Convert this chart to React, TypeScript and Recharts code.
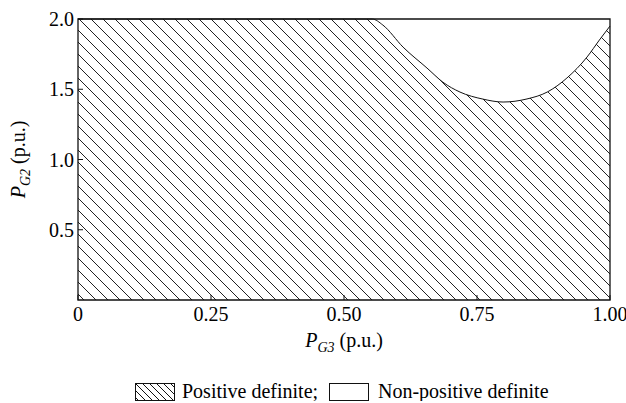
import React from 'react';
import { ComposedChart, Area, XAxis, YAxis, ReferenceArea, Legend } from 'recharts';

// Stability boundary: above the curve the matrix is no longer positive definite
const boundaryX = [0, 0.553, 0.573, 0.611, 0.656, 0.686, 0.718, 0.761, 0.799, 0.844, 0.882, 0.919, 0.957, 0.98, 1.0];
const boundaryY = [2.0, 2.0, 1.957, 1.8, 1.651, 1.55, 1.48, 1.43, 1.409, 1.431, 1.48, 1.58, 1.73, 1.85, 1.95];

const xTicks = [0, 0.25, 0.5, 0.75, 1.0];
const xTickLabels = ['0', '0.25', '0.50', '0.75', '1.00'];
const yTicks = [0.5, 1.0, 1.5, 2.0];
const yTickLabels = ['0.5', '1.0', '1.5', '2.0'];
const legendLabels = ['Positive definite;', 'Non-positive definite'];

const data = boundaryX.map((x, i) => ({ x, y: boundaryY[i] }));

const W = 626;
const H = 403;
const FONT = '"Liberation Serif", "Times New Roman", Times, serif';
const INK = '#111';
const X_TICK_MARGIN = 7;
const Y_TICK_MARGIN = 4;
const TICK_LEN = 5;
const LEGEND_H = 41;
const HATCH = 12;

const XTick = (props: any) => {
  const { x, y, payload } = props;
  const axisY = y - X_TICK_MARGIN;
  const label = xTickLabels[xTicks.indexOf(payload.value)];
  return (
    <g>
      <line x1={x} x2={x} y1={axisY} y2={axisY - TICK_LEN} stroke={INK} strokeWidth={1} />
      <text x={x} y={y} dy="0.71em" textAnchor="middle" fontFamily={FONT} fontSize={20} fill="#000">
        {label}
      </text>
    </g>
  );
};

const YTick = (props: any) => {
  const { x, y, payload } = props;
  const axisX = x + Y_TICK_MARGIN;
  const label = yTickLabels[yTicks.indexOf(payload.value)];
  return (
    <g>
      <line x1={axisX} x2={axisX + TICK_LEN} y1={y} y2={y} stroke={INK} strokeWidth={1} />
      <text x={x} y={y} dy="0.35em" textAnchor="end" fontFamily={FONT} fontSize={20} fill="#000">
        {label}
      </text>
    </g>
  );
};

const XLabel = (props: any) => {
  const vb = props.viewBox;
  return (
    <text x={vb.x + vb.width / 2} y={vb.y + 47} textAnchor="middle" fontFamily={FONT} fontSize={20} fill="#000">
      <tspan fontStyle="italic">P</tspan>
      <tspan fontStyle="italic" fontSize={14} dy={5}>G3</tspan>
      <tspan dy={-5}> (p.u.)</tspan>
    </text>
  );
};

const YLabel = (props: any) => {
  const vb = props.viewBox;
  const cy = vb.y + vb.height / 2;
  return (
    <text
      transform={`translate(25, ${cy}) rotate(-90)`}
      x={0}
      y={0}
      textAnchor="middle"
      fontFamily={FONT}
      fontSize={20}
      fill="#000"
    >
      <tspan fontStyle="italic">P</tspan>
      <tspan fontStyle="italic" fontSize={14} dy={5}>G2</tspan>
      <tspan dy={-5}> (p.u.)</tspan>
    </text>
  );
};

const LegendContent = () => (
  <svg width={W} height={LEGEND_H} style={{ display: 'block' }}>
    <defs>
      <pattern id="hatchSmall" patternUnits="userSpaceOnUse" width={7} height={7}>
        <path d="M-1,-1 L8,8 M-1,6 L1,8 M6,-1 L8,1" stroke={INK} strokeWidth={1} />
      </pattern>
    </defs>
    <rect x={135.5} y={23.5} width={39} height={17} fill="url(#hatchSmall)" stroke={INK} strokeWidth={1} />
    <text x={182} y={38} fontFamily={FONT} fontSize={20} fill="#000">
      {legendLabels[0]}
    </text>
    <rect x={329.5} y={23.5} width={39} height={17} fill="#fff" stroke={INK} strokeWidth={1} />
    <text x={378} y={38} fontFamily={FONT} fontSize={20} fill="#000">
      {legendLabels[1]}
    </text>
  </svg>
);

export default function App() {
  return (
    <div style={{ position: 'absolute', left: 0, top: 0, width: W, height: H, background: '#fff' }}>
      <ComposedChart width={W} height={H} data={data} margin={{ top: 19, right: 16, bottom: 2, left: 0 }}>
        <defs>
          <pattern id="hatch" patternUnits="userSpaceOnUse" width={HATCH} height={HATCH}>
            <path
              d={`M-1,-1 L${HATCH + 1},${HATCH + 1} M-1,${HATCH - 1} L1,${HATCH + 1} M${HATCH - 1},-1 L${HATCH + 1},1`}
              stroke="#222"
              strokeWidth={1}
            />
          </pattern>
        </defs>
        <XAxis
          type="number"
          dataKey="x"
          domain={[0, 1]}
          ticks={xTicks}
          interval={0}
          height={60}
          tickSize={0}
          tickMargin={X_TICK_MARGIN}
          tickLine={false}
          axisLine={false}
          tick={<XTick />}
          label={{ content: <XLabel /> }}
        />
        <YAxis
          type="number"
          domain={[0, 2]}
          ticks={yTicks}
          interval={0}
          width={78}
          tickSize={0}
          tickMargin={Y_TICK_MARGIN}
          tickLine={false}
          axisLine={false}
          tick={<YTick />}
          label={{ content: <YLabel /> }}
        />
        <Area
          type="monotoneX"
          dataKey="y"
          fill="url(#hatch)"
          fillOpacity={1}
          stroke={INK}
          strokeWidth={1}
          dot={false}
          activeDot={false}
          isAnimationActive={false}
        />
        <ReferenceArea x1={0} x2={1} y1={0} y2={2} fill="none" stroke={INK} strokeWidth={1.3} ifOverflow="visible" />
        <Legend
          verticalAlign="bottom"
          content={<LegendContent />}
          wrapperStyle={{ left: 0, bottom: 2, width: W, height: LEGEND_H }}
        />
      </ComposedChart>
    </div>
  );
}
